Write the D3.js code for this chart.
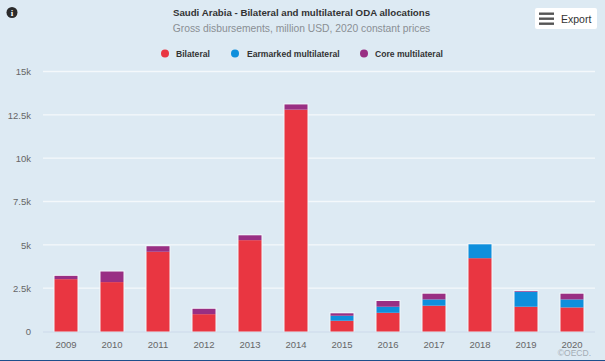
<!DOCTYPE html>
<html>
<head>
<meta charset="utf-8">
<script src="https://cdn.jsdelivr.net/npm/d3@7"></script>
<style>
  html, body { margin: 0; padding: 0; background: #ddeaf3; }
  svg { display: block; font-family: "Liberation Sans", Arial, sans-serif; }
  .grid line { stroke: #f4f8fb; stroke-width: 1.3; }
  .tick-label { fill: #666; font-size: 9.5px; }
</style>
</head>
<body>
<svg id="chart" width="605" height="361"></svg>
<script>
const years = ["2009","2010","2011","2012","2013","2014","2015","2016","2017","2018","2019","2020"];
const bilateral = [3020,2850,4600,1000,5270,12800,620,1080,1490,4230,1430,1390];
const earmarked = [0,0,0,0,0,0,290,350,360,800,860,460];
const core = [190,610,320,310,280,300,140,330,330,0,40,330];
const yTicks = [0,2500,5000,7500,10000,12500,15000];
const tickLabels = ["0","2.5k","5k","7.5k","10k","12.5k","15k"];
const seriesNames = ["Bilateral","Earmarked multilateral","Core multilateral"];
const seriesColors = ["#e93641","#0e8fdc","#992f83"];

const svg = d3.select("#chart");
const plot = {left: 43, right: 595, top: 71.5, bottom: 331.5};

// bottom edge of the screenshot
svg.append("rect").attr("x", 0).attr("y", 360).attr("width", 605).attr("height", 1).attr("fill", "#1d4f8c");

var x = d3.scaleBand().domain(years).range([plot.left, plot.right]).paddingInner(0.5).paddingOuter(0.25);
var y = d3.scaleLinear().domain([0, 15000]).range([plot.bottom, plot.top]);

var rows = years.map((yr, i) => ({year: yr, Bilateral: bilateral[i], "Earmarked multilateral": earmarked[i], "Core multilateral": core[i]}));
var stacked = d3.stack().keys(seriesNames)(rows);

// gridlines
svg.append("g").attr("class", "grid")
  .selectAll("line")
  .data(yTicks.slice(1))
  .enter()
  .append("line")
  .attr("x1", plot.left)
  .attr("x2", plot.right)
  .attr("y1", d => y(d))
  .attr("y2", d => y(d));

svg.append("line")
  .attr("x1", plot.left).attr("x2", plot.right)
  .attr("y1", y(0) + 0.5).attr("y2", y(0) + 0.5)
  .attr("stroke", "#ccd9ea").attr("stroke-width", 1);

svg.selectAll(".y-label")
  .data(yTicks)
  .enter()
  .append("text")
  .attr("class", "tick-label y-label")
  .attr("x", 31)
  .attr("y", d => y(d) + 3.8)
  .attr("text-anchor", "end")
  .text((d, i) => tickLabels[i]);

svg.selectAll(".x-label")
  .data(years)
  .enter()
  .append("text")
  .attr("class", "tick-label x-label")
  .attr("x", d => x(d) + x.bandwidth() / 2)
  .attr("y", 347.5)
  .attr("text-anchor", "middle")
  .text(d => d);

// bars, white halo first so it stays behind the segments
svg.append("g").selectAll("rect")
  .data(rows)
  .enter()
  .append("rect")
  .attr("x", d => x(d.year) - 1)
  .attr("width", x.bandwidth() + 2)
  .attr("y", (d, i) => y(bilateral[i] + earmarked[i] + core[i]) - 1)
  .attr("height", (d, i) => y(0) - y(bilateral[i] + earmarked[i] + core[i]) + 1)
  .attr("fill", "#f3f7fb");

svg.append("g").selectAll("g")
  .data(stacked)
  .enter()
  .append("g")
  .attr("fill", (d, i) => seriesColors[i])
  .selectAll("rect")
  .data(d => d)
  .enter()
  .append("rect")
  .attr("x", d => x(d.data.year))
  .attr("width", x.bandwidth())
  .attr("y", d => y(d[1]))
  .attr("height", d => y(d[0]) - y(d[1]));

// titles
svg.append("text")
  .attr("x", 301.5).attr("y", 16)
  .attr("text-anchor", "middle")
  .attr("fill", "#333").attr("font-size", 9.7).attr("font-weight", "bold")
  .text("Saudi Arabia - Bilateral and multilateral ODA allocations");

svg.append("text")
  .attr("x", 301.5).attr("y", 32)
  .attr("text-anchor", "middle")
  .attr("fill", "#8a8f94").attr("font-size", 10.3)
  .text("Gross disbursements, million USD, 2020 constant prices");

// legend
var legendDot = [165, 235, 364];
var legendText = [176, 247, 375];
svg.selectAll(".legend-dot")
  .data(seriesNames)
  .enter()
  .append("circle")
  .attr("class", "legend-dot")
  .attr("cx", (d, i) => legendDot[i])
  .attr("cy", 53.5)
  .attr("r", 4)
  .attr("fill", (d, i) => seriesColors[i]);

svg.selectAll(".legend-text")
  .data(seriesNames)
  .enter()
  .append("text")
  .attr("class", "legend-text")
  .attr("x", (d, i) => legendText[i])
  .attr("y", 57)
  .attr("fill", "#333").attr("font-size", 8.6).attr("font-weight", "bold")
  .text(d => d);

// info icon
var info = svg.append("g").attr("transform", "translate(12,12.5)");
info.append("circle").attr("r", 5.5).attr("fill", "#2b2b2b");
info.append("text").attr("y", 3.5).attr("text-anchor", "middle")
  .attr("fill", "#fff").attr("font-size", 9).attr("font-weight", "bold")
  .attr("font-family", "Liberation Serif").text("i");

// export button
var btn = svg.append("g");
btn.append("rect").attr("x", 535).attr("y", 8).attr("width", 62).attr("height", 21).attr("rx", 2).attr("fill", "#fff");
btn.selectAll(".bar")
  .data([13, 18, 23])
  .enter()
  .append("rect")
  .attr("x", 539).attr("y", d => d - 0.5)
  .attr("width", 15).attr("height", 2.4)
  .attr("fill", "#555");
btn.append("text").attr("x", 561).attr("y", 22.5)
  .attr("fill", "#333").attr("font-size", 10.5).text("Export");

// credit
svg.append("text")
  .attr("x", 591).attr("y", 356)
  .attr("text-anchor", "end")
  .attr("fill", "#a3acb4").attr("font-size", 8.5)
  .text("©OECD.");
</script>
</body>
</html>
